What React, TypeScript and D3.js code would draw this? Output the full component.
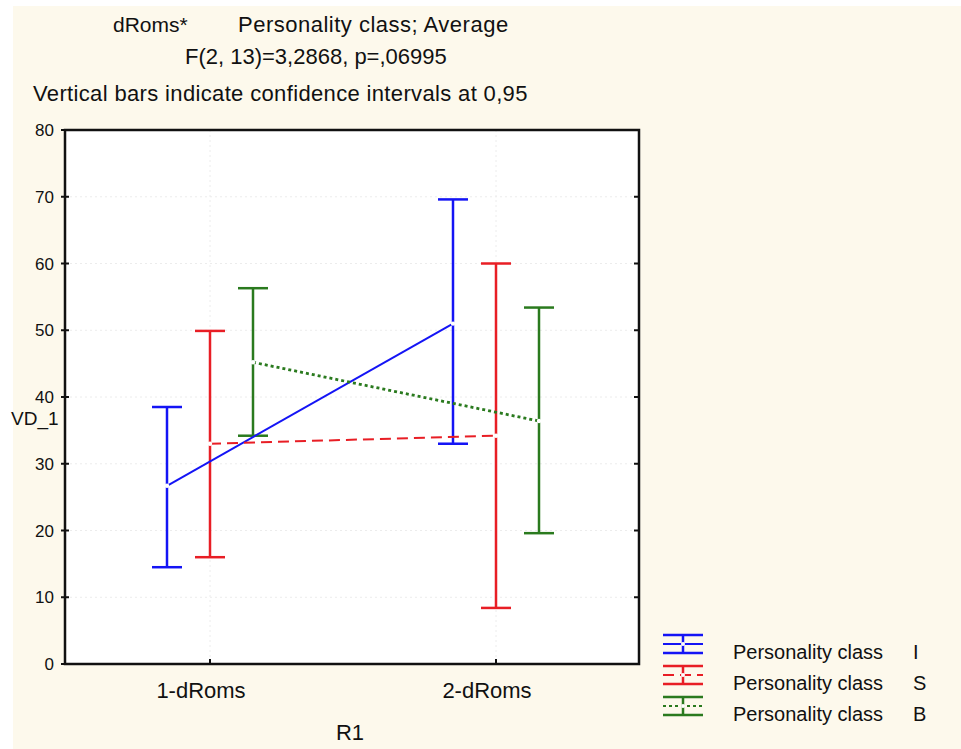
import React from 'react';
import * as d3 from 'd3';

// data
const categories = ['1-dRoms', '2-dRoms'];
const seriesNames = ['I', 'S', 'B'];
const means = [
  [26.7, 51.0],
  [33.0, 34.2],
  [45.2, 36.4],
];
const lower = [
  [14.5, 33.0],
  [16.0, 8.4],
  [34.2, 19.6],
];
const upper = [
  [38.5, 69.6],
  [49.9, 60.0],
  [56.3, 53.4],
];
const yTicks = [0, 10, 20, 30, 40, 50, 60, 70, 80];
const titleLines = [
  'F(2, 13)=3,2868, p=,06995',
  'Vertical bars indicate confidence intervals at 0,95',
];

const colors = ['#1414f5', '#e81e25', '#2a7a1e'];
const dashes = [null, '11,6', '3,3'];

const W = 961;
const H = 749;
const plot = { left: 65, right: 639, top: 130, bottom: 664 };
const font = '"Liberation Sans", Arial, sans-serif';

const App = () => {
  const y = d3.scaleLinear().domain([0, 80]).range([plot.bottom, plot.top]);
  const x = d3.scalePoint().domain(categories).range([210, 496]);
  const offset = d3.scalePoint().domain(seriesNames).range([-43, 43]);

  const line = d3.line<[number, number]>()
    .x(d => d[0])
    .y(d => d[1]);

  return (
    <svg width={W} height={H} style={{ position: 'absolute', left: 0, top: 0 }} fontFamily={font}>
      <rect x={0} y={0} width={W} height={H} fill="#ffffff" />
      <rect x={13} y={6} width={W - 13} height={H - 6} fill="#fdf9ec" />
      <rect x={plot.left} y={plot.top} width={plot.right - plot.left} height={plot.bottom - plot.top} fill="#ffffff" />

      {/* titles */}
      <text x={113} y={32} fontSize={21} fill="#111">dRoms*</text>
      <text x={238} y={32} fontSize={22} letterSpacing={0.5} fill="#111">Personality class; Average</text>
      <text x={185} y={64} fontSize={22} fill="#111">{titleLines[0]}</text>
      <text x={33} y={101} fontSize={22} letterSpacing={0.35} fill="#111">{titleLines[1]}</text>

      {/* faint grid */}
      {yTicks.slice(1, -1).map(t => (
        <line key={'g' + t} x1={plot.left} x2={plot.right} y1={y(t)} y2={y(t)} stroke="#ececec" strokeDasharray="2,3" />
      ))}
      {categories.map(c => (
        <line key={'gv' + c} x1={x(c)} x2={x(c)} y1={plot.top} y2={plot.bottom} stroke="#ececec" strokeDasharray="2,3" />
      ))}

      {/* y ticks and labels */}
      {yTicks.map(t => (
        <g key={'t' + t}>
          <line x1={plot.left - 4} x2={plot.left + 4} y1={y(t)} y2={y(t)} stroke="#111" strokeWidth={2} />
          <line x1={plot.right - 5} x2={plot.right} y1={y(t)} y2={y(t)} stroke="#111" strokeWidth={2} />
          <text x={54} y={y(t) + 6} fontSize={17} textAnchor="end" fill="#111">{t}</text>
        </g>
      ))}
      <text x={11} y={425} fontSize={19} fill="#111">VD_1</text>

      {/* x ticks and labels */}
      {categories.map(c => (
        <g key={'x' + c}>
          <line x1={x(c)} x2={x(c)} y1={plot.bottom} y2={plot.bottom - 5} stroke="#111" strokeWidth={2} />
          <text x={(x(c) as number) - 9} y={698} fontSize={22} textAnchor="middle" fill="#111">{c}</text>
        </g>
      ))}
      <text x={350} y={740} fontSize={22} textAnchor="middle" fill="#111">R1</text>

      {/* error bars */}
      {seriesNames.map((s, i) => (
        <g key={'e' + s} stroke={colors[i]} strokeWidth={2.5}>
          {categories.map((c, j) => {
            const cx = (x(c) as number) + (offset(s) as number);
            return (
              <g key={c}>
                <line x1={cx} x2={cx} y1={y(lower[i][j])} y2={y(upper[i][j])} />
                <line x1={cx - 15} x2={cx + 15} y1={y(lower[i][j])} y2={y(lower[i][j])} />
                <line x1={cx - 15} x2={cx + 15} y1={y(upper[i][j])} y2={y(upper[i][j])} />
              </g>
            );
          })}
        </g>
      ))}

      {/* mean lines */}
      {seriesNames.map((s, i) => {
        const pts = categories.map((c, j) => [(x(c) as number) + (offset(s) as number), y(means[i][j])] as [number, number]);
        return (
          <g key={'m' + s}>
            <path d={line(pts) as string} fill="none" stroke={colors[i]} strokeWidth={i === 2 ? 2.8 : 2} strokeDasharray={dashes[i] ?? undefined} />
            {pts.map((p, k) => (
              <circle key={k} cx={p[0]} cy={p[1]} r={2.2} fill="#ffffff" />
            ))}
          </g>
        );
      })}

      {/* frame */}
      <rect x={plot.left} y={plot.top} width={plot.right - plot.left} height={plot.bottom - plot.top} fill="none" stroke="#111" strokeWidth={2.5} />

      {/* legend */}
      {seriesNames.map((s, i) => {
        const cy = 644 + i * 31;
        const lx = 683;
        return (
          <g key={'l' + s}>
            <g stroke={colors[i]} strokeWidth={2.5}>
              <line x1={lx} x2={lx} y1={cy - 9} y2={cy + 9} />
              <line x1={lx - 20} x2={lx + 20} y1={cy - 9} y2={cy - 9} />
              <line x1={lx - 20} x2={lx + 20} y1={cy + 9} y2={cy + 9} />
              <line x1={lx - 20} x2={lx + 20} y1={cy} y2={cy} strokeWidth={2} strokeDasharray={dashes[i] ?? undefined} />
            </g>
            <circle cx={lx} cy={cy} r={2} fill="#ffffff" />
            <text x={733} y={cy + 15} fontSize={20} fill="#111">Personality class</text>
            <text x={913} y={cy + 15} fontSize={20} fill="#111">{s}</text>
          </g>
        );
      })}
    </svg>
  );
};

export default App;
